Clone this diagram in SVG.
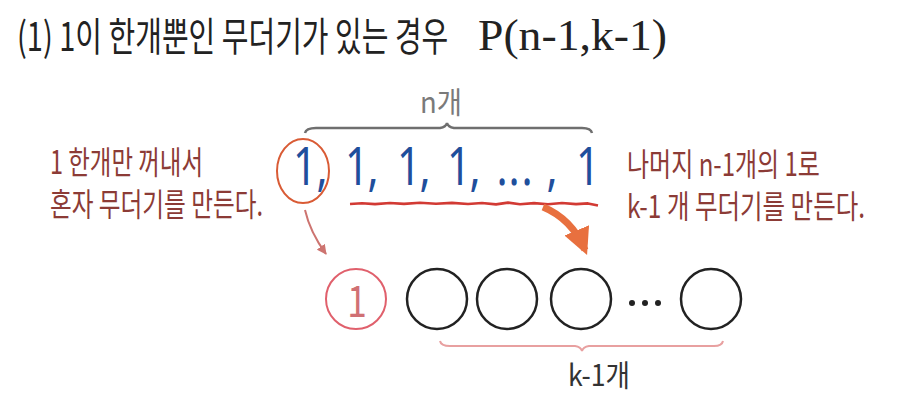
<svg xmlns="http://www.w3.org/2000/svg" width="904" height="402" viewBox="0 0 904 402">
<style>
.kr{font-family:"Noto Sans CJK KR","Noto Sans",sans-serif;}
.note{fill:#8c3b36;font-size:32px;}
.blue{font-family:"Noto Sans","Noto Sans CJK KR",sans-serif;fill:#1f4f9c;font-size:52px;}
.slot{fill:none;stroke:#222;stroke-width:2.5;}
</style>
<defs>
<marker id="thinHead" viewBox="0 0 10 10" refX="9" refY="5" markerWidth="5" markerHeight="5" orient="auto" markerUnits="strokeWidth">
<path d="M0,0 L10,5 L0,10 Z" fill="#cd7470"/>
</marker>
<marker id="thickHead" viewBox="0 0 10 10" refX="8" refY="5" markerWidth="3.8" markerHeight="3.8" orient="auto" markerUnits="strokeWidth">
<path d="M0,0 L10,5 L0,10 Z" fill="#e8703f"/>
</marker>
</defs>
<rect width="904" height="402" fill="#ffffff"/>

<g id="title">
<g transform="translate(17,51) scale(0.72,1)">
<text class="kr" x="0" y="0" font-size="40" fill="#222" textLength="599" lengthAdjust="spacingAndGlyphs">(1) 1이 한개뿐인 무더기가 있는 경우</text>
</g>
<text x="478" y="50" font-family="Liberation Serif, serif" font-size="45" fill="#222" textLength="189" lengthAdjust="spacingAndGlyphs">P(n-1,k-1)</text>
</g>

<g id="n-brace">
<path d="M305,133 Q306,128 316,128 L440,128 Q446,127 447,123 Q448,127 454,128 L582,128 Q591,128 592,133" fill="none" stroke="#6f6f6f" stroke-width="2.5"/>
<g transform="translate(420,113) scale(0.75,1)">
<text class="kr" x="0" y="0" font-size="30" fill="#7a7a7a" textLength="56" lengthAdjust="spacingAndGlyphs">n개</text>
</g>
</g>

<g id="ones">
<g transform="scale(0.8,1)">
<text class="blue" text-anchor="middle" x="381.25 402.5 446.25 466.25 511.25 531.25 573.75 593.75 627.5 642.5 658.75 690 735" y="185">1,1,1,1,...,1</text>
</g>
<ellipse cx="303" cy="171" rx="26" ry="32" fill="none" stroke="#d95b35" stroke-width="2"/>
<path d="M350,204 L362,203.2 L375,204.1 L390,203 L404,203.9 L420,202.8 L436,203.7 L452,202.9 L468,204 L482,203 L496,204.4 L508,202.6 L520,204.2 L534,203.1 L548,204.3 L562,203 L576,204.1 L588,203.4 L598,205.5" fill="none" stroke="#d23a34" stroke-width="2.6" stroke-linejoin="round"/>
</g>

<g id="left-note">
<g transform="translate(50,174) scale(0.7,1)">
<text class="kr note" x="0" y="0" textLength="218.6" lengthAdjust="spacingAndGlyphs">1 한개만 꺼내서</text>
</g>
<g transform="translate(50,216) scale(0.7,1)">
<text class="kr note" x="0" y="0" textLength="304.3" lengthAdjust="spacingAndGlyphs">혼자 무더기를 만든다.</text>
</g>
</g>

<g id="right-note">
<g transform="translate(627,176) scale(0.72,1)">
<text class="kr note" x="0" y="0" textLength="268" lengthAdjust="spacingAndGlyphs">나머지 n-1개의 1로</text>
</g>
<g transform="translate(627,218) scale(0.72,1)">
<text class="kr note" x="0" y="0" textLength="330.6" lengthAdjust="spacingAndGlyphs">k-1 개 무더기를 만든다.</text>
</g>
</g>

<g id="connectors">
<path d="M305,210 Q310,232 326,254" fill="none" stroke="#cd7470" stroke-width="2" marker-end="url(#thinHead)"/>
<path d="M543,207 Q572,219 585,250" fill="none" stroke="#e8703f" stroke-width="7" marker-end="url(#thickHead)"/>
</g>

<g id="single-pile">
<circle cx="356" cy="299" r="30" fill="none" stroke="#e0606c" stroke-width="2"/>
<g transform="translate(357,317) scale(0.8,1)">
<text class="kr" x="0" y="0" font-size="44" fill="#d07074" text-anchor="middle">1</text>
</g>
</g>

<g id="piles">
<circle class="slot" cx="437" cy="299" r="30"/>
<circle class="slot" cx="507" cy="299" r="30"/>
<circle class="slot" cx="581" cy="299" r="30"/>
<circle cx="632" cy="303" r="3" fill="#222"/>
<circle cx="645" cy="303" r="3" fill="#222"/>
<circle cx="658" cy="303" r="3" fill="#222"/>
<circle class="slot" cx="711" cy="299" r="30"/>
</g>

<g id="k-brace">
<path d="M440,341 Q441,346 450,346 L575,346 Q581,347 582,351 Q583,347 589,346 L714,346 Q722,346 723,341" fill="none" stroke="#e8a0a0" stroke-width="2"/>
<g transform="translate(568,386) scale(0.8,1)">
<text class="kr" x="0" y="0" font-size="30" fill="#333" textLength="77.5" lengthAdjust="spacingAndGlyphs">k-1개</text>
</g>
</g>
</svg>
